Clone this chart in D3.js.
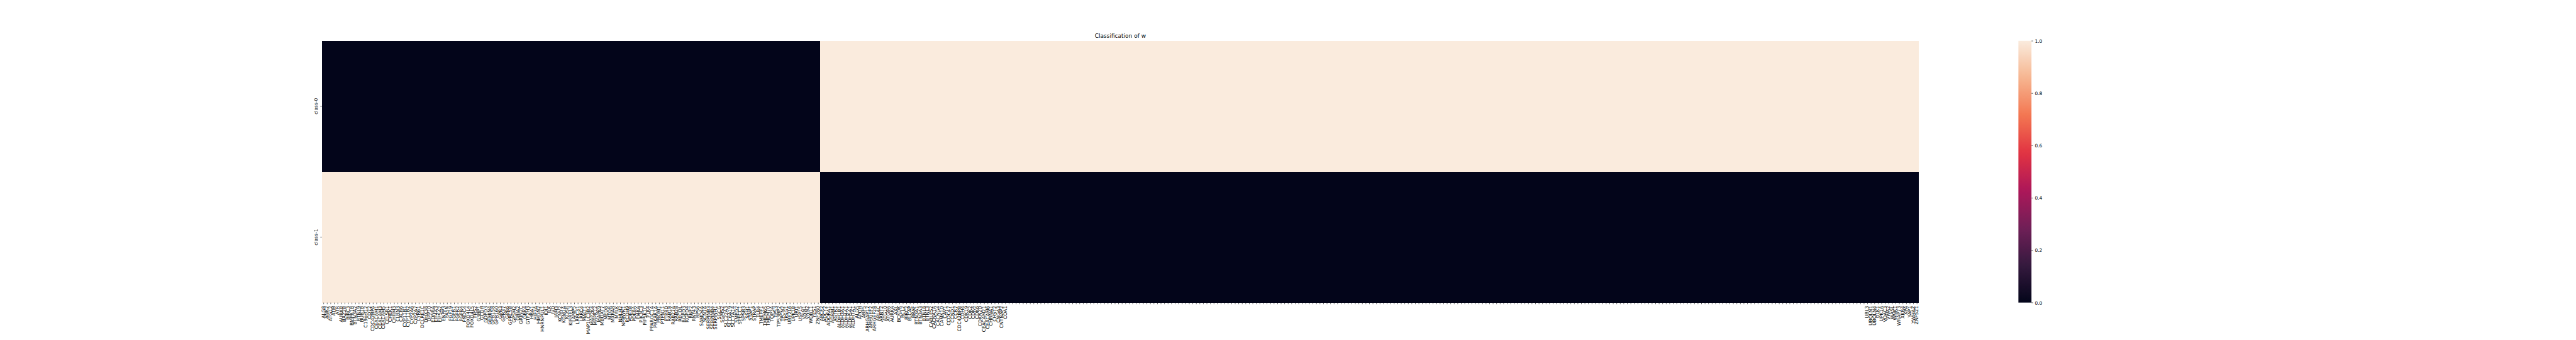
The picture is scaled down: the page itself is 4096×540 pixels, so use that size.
<!DOCTYPE html>
<html><head><meta charset="utf-8">
<script src="https://cdn.jsdelivr.net/npm/d3@7"></script>
<style>html,body{margin:0;padding:0;background:#fff;} svg{display:block;}</style>
</head><body>
<svg id="chart" width="4096" height="540"></svg>
<script>
const title = "Classification of w";
const rowLabels = ["class-0", "class-1"];
// column labels: first block (class-1), then second block (class-0), each alphabetical
const genesA = ["ALG8","ANK2","ATG12","ATM","ATR","AURKB","BAZ2B","BIRC3","BMPR1B","BTN3A2","BTNL9","BUB1B","C19orf12","CD72","CDC42BPA","CEACAM1","CEACAM3","CEACAM5","CELSR1","CHEK1","CHRM3","CLRN3","CXCR6","CYP11B1","CYP11B2","CYP2A6","CYP2A7","CYR61","DCLRE1C","DHX38","DPP10","EDNRA","EIF4A3","EIF5A2","ENPP3","FASN","FGF19","FGFR1","FGFR2","FGFR4","FNDC4","FOXD4L4","FOXD4L5","FRS2","G3BP1","GCDH","GDPD3","GEMIN4","GPR158","GPR160","GPR3","GPR37","GPR6","GPRC5B","GPSM2","GRIA2","GRIN2C","GRK4","GTF2H3","HBA1","HIF3A","HMGN2","HNRNPUL1","IDI1","ILK","IVD","JAM3","KCNV2","KDM1A","KDSR","KIRREL3","LAMP5","LRRC31","LRRC4","MALT1","MAP1LC3B2","MAP2K4","MAPK12","MAPK9","MBOAT7","MED8","MTOR","MXRA8","MYLK","NHLH2","NPBWR1","PCDH9","PDE3B","PDE8A","PI4KA","PIK3C3","PIP5K1C","PLK4","PPARGC1A","PRKAR1A","PROM1","PTPN11","PTPRD","RAB18","RAB27A","RAB28","RECQL","RGPD3","RGPD4","RNF2","RNF43","RPS6","SAMD4A","SCN7A","SERPINB3","SERPINB4","SERPINH1","SGCG","SGMS2","SLC22A3","SLC6A19","SLC7A14","SMPD2","SPECC1","SPSB3","SSH1","STAP1","STRAP","TLR4","TMEFF1","TMEM65","TMEM70","TOP3A","TP53","TP53BP2","TPCN2","TPSG1","UBE2L6","UPK1B","URI1","USP15","VNN1","VNN2","WDR11","YES1","ZNF280"];
const genesB = ["ABCF2","ADCY2","ADORA1","ADRM1","AGTR1","ALDH1B1","ALDH3A1","ALDH4A1","ALDH5A1","ALDH7A1","ALG5","APOH","ARF5","ARHGAP17","ARHGEF2","ARHGEF28","ARL4C","ARNT2","ATG10","ATG9A","AURKA","AXL","BCKDK","BCL2","BIRC2","BLCAP","BRAF","BTN3A1","BTN3A3","BTNL8","BTNL3","CABLES2","CACNA1A","CACNG4","CAMK1D","CAV1","CCDC47","CCND1","CCR7","CDC42BPB","CDH4","CDK19","CDK2","CDK4","CDK6","CDKN2D","CEACAM21","CEACAM6","CHRNA1","CHST2","CNGA3","CNTNAP2","COA1"];
// labels in this stretch could not be read from the reference
const genesUnread = new Array(243).fill("");
const genesEnd = ["UBL3","UBQLN1","UBQLN4","ULK1","UPK1A","VDAC3","VWA2","WASL","WNK1","WRAP73","XKR4","XPA","YAP1","YWHAZ","ZNF521"];
const genes = genesA.concat(genesB, genesUnread, genesEnd);

const class0Values = [
0,0,0,0,0,0,0,0,0,0,0,0,0,0,0,0,0,0,0,0,
0,0,0,0,0,0,0,0,0,0,0,0,0,0,0,0,0,0,0,0,
0,0,0,0,0,0,0,0,0,0,0,0,0,0,0,0,0,0,0,0,
0,0,0,0,0,0,0,0,0,0,0,0,0,0,0,0,0,0,0,0,
0,0,0,0,0,0,0,0,0,0,0,0,0,0,0,0,0,0,0,0,
0,0,0,0,0,0,0,0,0,0,0,0,0,0,0,0,0,0,0,0,
0,0,0,0,0,0,0,0,0,0,0,0,0,0,0,0,0,0,0,0,
0,
1,1,1,1,1,1,1,1,1,1,1,1,1,1,1,1,1,1,1,1,
1,1,1,1,1,1,1,1,1,1,1,1,1,1,1,1,1,1,1,1,
1,1,1,1,1,1,1,1,1,1,1,1,1,1,1,1,1,1,1,1,
1,1,1,1,1,1,1,1,1,1,1,1,1,1,1,1,1,1,1,1,
1,1,1,1,1,1,1,1,1,1,1,1,1,1,1,1,1,1,1,1,
1,1,1,1,1,1,1,1,1,1,1,1,1,1,1,1,1,1,1,1,
1,1,1,1,1,1,1,1,1,1,1,1,1,1,1,1,1,1,1,1,
1,1,1,1,1,1,1,1,1,1,1,1,1,1,1,1,1,1,1,1,
1,1,1,1,1,1,1,1,1,1,1,1,1,1,1,1,1,1,1,1,
1,1,1,1,1,1,1,1,1,1,1,1,1,1,1,1,1,1,1,1,
1,1,1,1,1,1,1,1,1,1,1,1,1,1,1,1,1,1,1,1,
1,1,1,1,1,1,1,1,1,1,1,1,1,1,1,1,1,1,1,1,
1,1,1,1,1,1,1,1,1,1,1,1,1,1,1,1,1,1,1,1,
1,1,1,1,1,1,1,1,1,1,1,1,1,1,1,1,1,1,1,1,
1,1,1,1,1,1,1,1,1,1,1,1,1,1,1,1,1,1,1,1,
1,1,1,1,1,1,1,1,1,1,1
];
const class1Values = [
1,1,1,1,1,1,1,1,1,1,1,1,1,1,1,1,1,1,1,1,
1,1,1,1,1,1,1,1,1,1,1,1,1,1,1,1,1,1,1,1,
1,1,1,1,1,1,1,1,1,1,1,1,1,1,1,1,1,1,1,1,
1,1,1,1,1,1,1,1,1,1,1,1,1,1,1,1,1,1,1,1,
1,1,1,1,1,1,1,1,1,1,1,1,1,1,1,1,1,1,1,1,
1,1,1,1,1,1,1,1,1,1,1,1,1,1,1,1,1,1,1,1,
1,1,1,1,1,1,1,1,1,1,1,1,1,1,1,1,1,1,1,1,
1,
0,0,0,0,0,0,0,0,0,0,0,0,0,0,0,0,0,0,0,0,
0,0,0,0,0,0,0,0,0,0,0,0,0,0,0,0,0,0,0,0,
0,0,0,0,0,0,0,0,0,0,0,0,0,0,0,0,0,0,0,0,
0,0,0,0,0,0,0,0,0,0,0,0,0,0,0,0,0,0,0,0,
0,0,0,0,0,0,0,0,0,0,0,0,0,0,0,0,0,0,0,0,
0,0,0,0,0,0,0,0,0,0,0,0,0,0,0,0,0,0,0,0,
0,0,0,0,0,0,0,0,0,0,0,0,0,0,0,0,0,0,0,0,
0,0,0,0,0,0,0,0,0,0,0,0,0,0,0,0,0,0,0,0,
0,0,0,0,0,0,0,0,0,0,0,0,0,0,0,0,0,0,0,0,
0,0,0,0,0,0,0,0,0,0,0,0,0,0,0,0,0,0,0,0,
0,0,0,0,0,0,0,0,0,0,0,0,0,0,0,0,0,0,0,0,
0,0,0,0,0,0,0,0,0,0,0,0,0,0,0,0,0,0,0,0,
0,0,0,0,0,0,0,0,0,0,0,0,0,0,0,0,0,0,0,0,
0,0,0,0,0,0,0,0,0,0,0,0,0,0,0,0,0,0,0,0,
0,0,0,0,0,0,0,0,0,0,0,0,0,0,0,0,0,0,0,0,
0,0,0,0,0,0,0,0,0,0,0
];
const colorbarTicks = [0.0, 0.2, 0.4, 0.6, 0.8, 1.0];
const rocketColors = ["#03051a","#35193e","#701f57","#ad1759","#e13342","#f37651","#f6b48f","#faebdd"];

const S = 0.54;
const FONT = "DejaVu Sans, Liberation Sans, sans-serif";
const fs = 13.89, tickLen = 4.86, pad = 4.86, lw = 1.11;
const m = {left: 947.9, right: 5650, top: 120, bottom: 890};
const cbX = 5943.3, cbW = 38.5;

const svg = d3.select("#chart");
const g = svg.append("g").attr("transform", `scale(${S})`);

const x = d3.scaleBand().domain(d3.range(genes.length)).range([m.left, m.right]);
const y = d3.scaleBand().domain(rowLabels).range([m.top, m.bottom]);
const color = d3.scaleSequential(d3.piecewise(d3.interpolateRgb, rocketColors)).domain([0, 1]);

const cells = [];
genes.forEach((name, i) => {
  cells.push({row: rowLabels[0], col: i, v: class0Values[i]});
  cells.push({row: rowLabels[1], col: i, v: class1Values[i]});
});
g.append("g").attr("shape-rendering", "crispEdges")
  .selectAll("rect").data(cells).join("rect")
  .attr("x", d => x(d.col)).attr("y", d => y(d.row))
  .attr("width", d => x.bandwidth() + (d.col < genes.length - 1 ? 2 : 0))
  .attr("height", d => y.bandwidth() + (d.row === rowLabels[0] ? 1 : 0))
  .attr("fill", d => color(d.v)).attr("stroke", "none");

// x axis
const gx = g.append("g").attr("transform", `translate(0,${m.bottom})`)
  .call(d3.axisBottom(x).tickSize(tickLen).tickPadding(pad).tickFormat(i => genes[i]));
gx.select(".domain").remove();
gx.selectAll(".tick line").attr("stroke", "#000").attr("stroke-width", lw);
gx.selectAll(".tick text")
  .attr("transform", "rotate(-90)").attr("x", -(tickLen + pad)).attr("y", 0).attr("dy", "0.26em")
  .attr("text-anchor", "end").attr("font-size", fs).attr("font-family", FONT).attr("fill", "#000");

// y axis
const gy = g.append("g").attr("transform", `translate(${m.left},0)`)
  .call(d3.axisLeft(y).tickSize(tickLen).tickPadding(pad));
gy.select(".domain").remove();
gy.selectAll(".tick line").attr("stroke", "#000").attr("stroke-width", lw);
gy.selectAll(".tick text")
  .attr("transform", "rotate(-90)").attr("x", 0).attr("y", -(tickLen + pad + 0.24 * fs)).attr("dy", 0)
  .attr("text-anchor", "middle").attr("font-size", fs).attr("font-family", FONT).attr("fill", "#000");

// title
g.append("text").attr("x", (m.left + m.right) / 2).attr("y", 111.7)
  .attr("text-anchor", "middle").attr("font-size", 16.67).attr("font-family", FONT).attr("fill", "#000")
  .text(title);

// colorbar
const defs = svg.append("defs");
const grad = defs.append("linearGradient").attr("id", "cbgrad")
  .attr("x1", 0).attr("y1", 1).attr("x2", 0).attr("y2", 0);
d3.range(0, 1.0001, 0.02).forEach(t => {
  grad.append("stop").attr("offset", t).attr("stop-color", color(t));
});
const cbScale = d3.scaleLinear().domain([0, 1]).range([m.bottom, m.top]);
g.append("rect").attr("x", cbX).attr("y", m.top).attr("width", cbW).attr("height", m.bottom - m.top)
  .attr("fill", "url(#cbgrad)");
const gc = g.append("g").attr("transform", `translate(${cbX + cbW},0)`)
  .call(d3.axisRight(cbScale).tickValues(colorbarTicks).tickFormat(d3.format(".1f")).tickSize(tickLen).tickPadding(pad));
gc.select(".domain").remove();
gc.selectAll(".tick line").attr("stroke", "#000").attr("stroke-width", lw);
gc.selectAll(".tick text").attr("font-size", fs).attr("font-family", FONT).attr("fill", "#000").attr("dy", "0.35em");
</script>
</body></html>
